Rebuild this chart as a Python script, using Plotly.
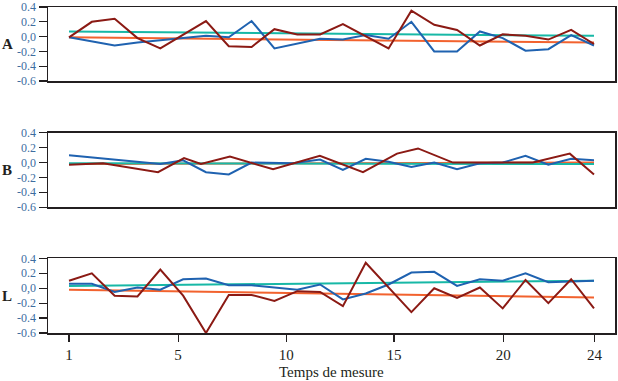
import plotly.graph_objects as go

# ---------------- data ----------------
# x = measurement time (axis units), y = value
A_red_t = [1, 2, 3, 4, 5, 7, 8, 9, 10, 11, 12, 13, 15, 16, 17, 18, 19, 20, 21, 22, 23, 24]
A_red = [-0.01, 0.20, 0.24, -0.02, -0.16, 0.21, -0.13, -0.14, 0.10, 0.03, 0.03, 0.17,
         -0.16, 0.35, 0.16, 0.09, -0.12, 0.03, 0.01, -0.04, 0.09, -0.10]
A_blue_t = [1, 3, 4, 5, 7, 8, 9, 10, 11, 12, 13, 14, 15, 16, 17, 18, 19, 20, 21, 22, 23, 24]
A_blue = [-0.01, -0.12, -0.08, -0.05, 0.01, -0.01, 0.21, -0.16, -0.10, -0.03, -0.04, 0.02,
          -0.03, 0.20, -0.20, -0.20, 0.07, -0.02, -0.19, -0.17, 0.02, -0.12]
A_teal = [0.07, 0.01]
A_orange = [-0.01, -0.08]

B_red_t = [1, 2.49, 4.9, 6.04, 6.78, 8.05, 9.94, 11.99, 13.88, 15.37, 16.29, 17.82, 21.32, 22.94, 24]
B_red = [-0.03, -0.01, -0.13, 0.06, -0.02, 0.08, -0.09, 0.09, -0.13, 0.12, 0.19, 0.0, 0.0, 0.12, -0.16]
B_blue_t = [1, 5, 6, 7, 8, 9, 10.8, 12, 13, 14, 15, 16, 17, 18, 19, 20, 21, 22, 23, 24]
B_blue = [0.10, -0.02, 0.03, -0.13, -0.16, 0.0, -0.01, 0.04, -0.10, 0.05, 0.01, -0.06,
          0.0, -0.09, -0.01, 0.0, 0.09, -0.03, 0.05, 0.03]
B_teal = [-0.01, -0.02]
B_orange = [-0.02, 0.0]

L_red_t = [1, 2, 3, 4, 5, 6, 7, 8, 9, 10, 11, 12, 13, 14, 16, 17, 18, 19, 20, 21, 22, 23, 24]
L_red = [0.10, 0.20, -0.10, -0.11, 0.25, -0.10, -0.60, -0.09, -0.09, -0.17, -0.04, -0.05,
         -0.24, 0.34, -0.32, 0.0, -0.13, 0.01, -0.27, 0.11, -0.20, 0.12, -0.27]
L_blue_t = list(range(1, 25))
L_blue = [0.06, 0.06, -0.05, 0.01, -0.02, 0.12, 0.13, 0.04, 0.04, 0.01, -0.02, 0.05,
          -0.15, -0.07, 0.05, 0.21, 0.22, 0.03, 0.12, 0.10, 0.20, 0.08, 0.09, 0.10]
L_teal = [0.03, 0.10]
L_orange = [-0.02, -0.125]

trend_t = [1, 24]
panel_labels = ["A", "B", "L"]

y_tickvals = [0.4, 0.2, 0.0, -0.2, -0.4, -0.6]
y_ticktext = ["0.4", "0.2", "0,0", "-0.2", "-0.4", "-0.6"]
x_tickvals = [1, 5.78, 10.52, 15.24, 20.02, 24.02]
x_ticktext = ["1", "5", "10", "15", "20", "24"]
x_title = "Temps de mesure"

# ---------------- styles ----------------
RED = "#8b1a14"
BLUE = "#1f62b0"
TEAL = "#17b8a6"
ORANGE = "#f2622e"
INK = "#231f20"
YLAB = "#3d6d9f"
FONT = "Liberation Serif"

panels = [
    ("", A_red_t, A_red, A_blue_t, A_blue, A_teal, A_orange),
    ("2", B_red_t, B_red, B_blue_t, B_blue, B_teal, B_orange),
    ("3", L_red_t, L_red, L_blue_t, L_blue, L_teal, L_orange),
]
domains = [[0.773, 1.0], [0.386, 0.614], [0.0, 0.229]]

fig = go.Figure()
for suf, rt, rv, bt, bv, tv, ov in panels:
    xa, ya = "x" + suf, "y" + suf
    fig.add_trace(go.Scatter(x=trend_t, y=ov, mode="lines", line=dict(color=ORANGE, width=2),
                             xaxis=xa, yaxis=ya))
    fig.add_trace(go.Scatter(x=trend_t, y=tv, mode="lines", line=dict(color=TEAL, width=2),
                             xaxis=xa, yaxis=ya))
    fig.add_trace(go.Scatter(x=bt, y=bv, mode="lines", line=dict(color=BLUE, width=2),
                             xaxis=xa, yaxis=ya))
    fig.add_trace(go.Scatter(x=rt, y=rv, mode="lines", line=dict(color=RED, width=2),
                             xaxis=xa, yaxis=ya))

layout = dict(
    width=618, height=381,
    margin=dict(l=48, r=3, t=7, b=48, autoexpand=False),
    paper_bgcolor="white", plot_bgcolor="white",
    showlegend=False,
    font=dict(family=FONT, color=INK),
)
for i, suf in enumerate(["", "2", "3"]):
    last = (i == 2)
    layout["xaxis" + suf] = dict(
        domain=[0, 1], range=[0.08, 24.92], anchor="y" + suf, automargin=False,
        showline=True, mirror=True, linecolor=INK, linewidth=1.5,
        showgrid=False, zeroline=False,
        showticklabels=last,
        ticks="outside" if last else "", ticklen=7, tickcolor=INK, tickwidth=1.2,
        tickmode="array", tickvals=x_tickvals, ticktext=x_ticktext,
        tickfont=dict(family=FONT, size=15, color=INK),
    )
    layout["yaxis" + suf] = dict(
        domain=domains[i], range=[-0.6, 0.4], anchor="x" + suf, automargin=False,
        showline=True, mirror=True, linecolor=INK, linewidth=1.5,
        showgrid=False, zeroline=False,
        ticks="outside", ticklen=8, tickcolor=INK, tickwidth=1.2,
        tickmode="array", tickvals=y_tickvals, ticktext=y_ticktext,
        tickfont=dict(family=FONT, size=12, color=YLAB),
    )
fig.update_layout(**layout)

for i, lab in enumerate(panel_labels):
    d = domains[i]
    fig.add_annotation(text="<b>%s</b>" % lab, xref="paper", yref="paper",
                       x=-0.072, y=(d[0] + d[1]) / 2, xanchor="center", yanchor="middle",
                       showarrow=False, font=dict(family=FONT, size=15, color=INK))

fig.add_annotation(text=x_title, xref="paper", yref="paper", x=0.5, y=-0.121,
                   xanchor="center", yanchor="middle", showarrow=False,
                   font=dict(family=FONT, size=15, color=INK))

fig.write_html("out.html", config={"staticPlot": True},
               post_script="document.body.style.margin='0';document.body.style.overflow='hidden';")
